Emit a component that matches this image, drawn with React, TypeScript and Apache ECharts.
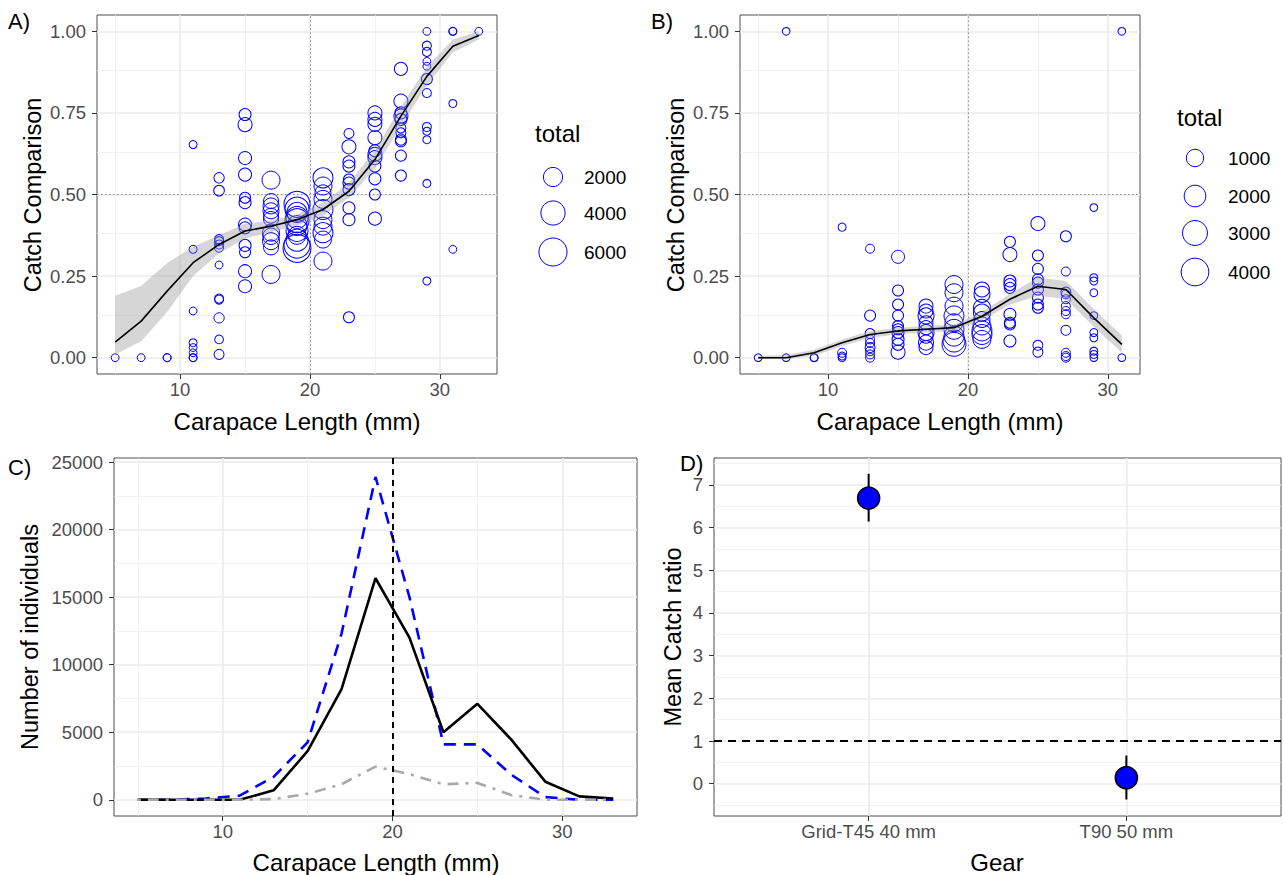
import React, { useEffect, useRef } from "react";
import * as echarts from "echarts";

// ---------------- Panel A data ----------------
const aLength = [
  5, 7, 9, 9,
  11, 11, 11, 11, 11, 11, 11, 11,
  13, 13, 13, 13, 13, 13, 13, 13, 13, 13, 13, 13,
  15, 15, 15, 15, 15, 15, 15, 15, 15, 15, 15, 15,
  17, 17, 17, 17, 17, 17, 17, 17, 17, 17, 17,
  19, 19, 19, 19, 19, 19, 19, 19, 19, 19, 19,
  21, 21, 21, 21, 21, 21, 21, 21, 21, 21,
  23, 23, 23, 23, 23, 23, 23, 23, 23, 23,
  25, 25, 25, 25, 25, 25, 25, 25, 25, 25, 25,
  27, 27, 27, 27, 27, 27, 27, 27, 27, 27, 27,
  29, 29, 29, 29, 29, 29, 29, 29, 29, 29, 29, 29,
  31, 31, 31, 31,
  33,
];
const aComparison = [
  0, 0, 0, 0,
  0.653, 0.332, 0.143, 0.046, 0.031, 0.015, 0, 0,
  0.551, 0.512, 0.363, 0.357, 0.347, 0.337, 0.284, 0.181, 0.178, 0.122, 0.056, 0.01,
  0.745, 0.714, 0.612, 0.561, 0.49, 0.475, 0.408, 0.398, 0.344, 0.323, 0.265, 0.219,
  0.544, 0.48, 0.465, 0.45, 0.435, 0.425, 0.383, 0.372, 0.357, 0.338, 0.255,
  0.47, 0.455, 0.445, 0.43, 0.42, 0.405, 0.39, 0.375, 0.36, 0.345, 0.335,
  0.551, 0.526, 0.505, 0.485, 0.454, 0.423, 0.403, 0.383, 0.362, 0.296,
  0.687, 0.646, 0.6, 0.587, 0.546, 0.535, 0.515, 0.459, 0.423, 0.124,
  0.75, 0.73, 0.715, 0.674, 0.634, 0.623, 0.613, 0.587, 0.548, 0.5, 0.426,
  0.885, 0.786, 0.75, 0.74, 0.73, 0.704, 0.689, 0.668, 0.663, 0.619, 0.558,
  1.0, 0.956, 0.937, 0.908, 0.893, 0.854, 0.811, 0.707, 0.694, 0.668, 0.534, 0.235,
  1.0, 1.0, 0.779, 0.332,
  1.0,
];
const aTotal = [
  10, 10, 15, 10,
  13, 13, 10, 13, 10, 10, 13, 10,
  160, 180, 60, 54, 54, 54, 10, 54, 54, 140, 40, 121,
  336, 658, 483, 483, 215, 336, 483, 336, 336, 215, 483, 483,
  1625, 860, 1088, 1088, 860, 860, 1343, 1200, 1343, 860, 1625,
  4850, 3880, 2270, 3020, 3880, 2270, 3020, 1625, 3020, 4850, 5920,
  2270, 1625, 1088, 1625, 2270, 1625, 1625, 2270, 1343, 1625,
  121, 658, 336, 336, 215, 336, 336, 336, 336, 215,
  658, 658, 658, 658, 336, 658, 658, 336, 336, 215, 483,
  483, 658, 336, 658, 336, 121, 121, 215, 215, 215, 215,
  10, 54, 54, 10, 10, 215, 54, 54, 13, 13, 13, 13,
  13, 10, 13, 10,
  10,
];
const aSmoothX = [5, 7, 9, 11, 13, 15, 17, 19, 21, 23, 25, 27, 29, 31, 33];
const aSmoothFit = [0.048, 0.112, 0.204, 0.291, 0.347, 0.388, 0.403, 0.423, 0.454, 0.51, 0.607, 0.74, 0.862, 0.954, 0.987];
const aSmoothLower = [0.01, 0.05, 0.14, 0.25, 0.32, 0.365, 0.385, 0.405, 0.435, 0.49, 0.58, 0.71, 0.835, 0.935, 0.975];
const aSmoothUpper = [0.19, 0.22, 0.29, 0.34, 0.375, 0.41, 0.42, 0.44, 0.475, 0.535, 0.635, 0.77, 0.89, 0.975, 1.0];
const aLegendTotals = [2000, 4000, 6000];

// ---------------- Panel B data ----------------
const bLength = [
  5, 7, 7, 9, 9,
  11, 11, 11, 11,
  13, 13, 13, 13, 13, 13, 13, 13, 13,
  15, 15, 15, 15, 15, 15, 15, 15, 15, 15,
  17, 17, 17, 17, 17, 17, 17, 17, 17,
  19, 19, 19, 19, 19, 19, 19, 19, 19,
  21, 21, 21, 21, 21, 21, 21, 21, 21,
  23, 23, 23, 23, 23, 23, 23, 23, 23,
  25, 25, 25, 25, 25, 25, 25, 25, 25, 25, 25,
  27, 27, 27, 27, 27, 27, 27, 27, 27, 27, 27, 27,
  29, 29, 29, 29, 29, 29, 29, 29, 29, 29,
  31, 31,
];
const bComparison = [
  0, 1.0, 0, 0, 0,
  0.4, 0.015, 0.005, 0,
  0.334, 0.129, 0.074, 0.056, 0.045, 0.031, 0.02, 0.01, 0,
  0.309, 0.206, 0.163, 0.129, 0.097, 0.087, 0.077, 0.056, 0.041, 0.017,
  0.158, 0.143, 0.128, 0.107, 0.092, 0.077, 0.066, 0.046, 0.031,
  0.224, 0.199, 0.158, 0.128, 0.107, 0.087, 0.066, 0.051, 0.041,
  0.209, 0.194, 0.153, 0.138, 0.117, 0.097, 0.082, 0.071, 0.056,
  0.355, 0.316, 0.235, 0.224, 0.214, 0.133, 0.107, 0.102, 0.051,
  0.411, 0.313, 0.272, 0.24, 0.23, 0.209, 0.184, 0.163, 0.153, 0.038, 0.017,
  0.372, 0.264, 0.201, 0.194, 0.179, 0.158, 0.143, 0.133, 0.084, 0.015, 0.005, 0,
  0.46, 0.245, 0.235, 0.199, 0.129, 0.077, 0.061, 0.02, 0.01, 0,
  1.0, 0,
];
const bTotal = [
  5, 5, 5, 9, 5,
  9, 37, 9, 9,
  37, 149, 84, 37, 37, 84, 37, 37, 37,
  335, 149, 149, 149, 149, 149, 232, 232, 232, 455,
  455, 455, 753, 455, 455, 753, 455, 595, 455,
  1125, 1125, 1125, 1571, 1125, 1571, 1571, 2092, 2686,
  595, 753, 930, 930, 753, 1125, 1571, 1571, 1125,
  149, 455, 232, 232, 149, 232, 149, 149, 232,
  455, 149, 149, 149, 149, 149, 149, 149, 149, 84, 84,
  149, 37, 84, 37, 37, 37, 37, 37, 84, 37, 37, 37,
  5, 9, 9, 5, 5, 9, 9, 9, 9, 5,
  5, 5,
];
const bSmoothX = [5, 7, 9, 11, 13, 15, 17, 19, 21, 23, 25, 27, 29, 31];
const bSmoothFit = [0, 0, 0.015, 0.046, 0.071, 0.082, 0.087, 0.092, 0.127, 0.179, 0.219, 0.209, 0.122, 0.041];
const bSmoothLower = [-0.004, -0.005, 0.006, 0.036, 0.06, 0.072, 0.077, 0.082, 0.115, 0.162, 0.19, 0.18, 0.095, 0.015];
const bSmoothUpper = [0.006, 0.008, 0.024, 0.056, 0.082, 0.092, 0.097, 0.102, 0.139, 0.196, 0.245, 0.235, 0.149, 0.068];
const bLegendTotals = [1000, 2000, 3000, 4000];

// ---------------- Panel C data ----------------
const cLength = [5, 7, 9, 11, 13, 15, 17, 19, 21, 23, 25, 27, 29, 31, 33];
const cSolidBlack = [0, 0, 0, 0, 700, 3600, 8200, 16400, 12000, 5000, 7100, 4450, 1340, 250, 100];
const cDashedBlue = [0, 0, 100, 300, 1700, 4250, 12300, 23900, 15000, 4100, 4100, 1850, 200, 0, 0];
const cDotDashGrey = [0, 0, 0, 0, 50, 450, 1150, 2450, 1900, 1150, 1250, 350, 0, 0, 0];

// ---------------- Panel D data ----------------
const gears = ["Grid-T45 40 mm", "T90 50 mm"];
const gearPos = [1, 2];
const ratioMean = [6.69, 0.14];
const ratioLow = [6.14, -0.37];
const ratioHigh = [7.26, 0.66];

// ---------------- styling helpers ----------------
const FONT = "'Liberation Sans', Arial, Helvetica, sans-serif";
const sizeA = (t: number) => 7 + 22 * Math.sqrt(t / 6500);
const sizeB = (t: number) => 7 + 22 * Math.sqrt(t / 4500);

const majorStyle = { color: "#EBEBEB", width: 1.6, type: "solid" };
const minorStyle = { color: "#EFEFEF", width: 0.8, type: "solid" };

function gridLines(xMajor: number[], xMinor: number[], yMajor: number[], yMinor: number[]) {
  return [
    ...xMinor.map((v) => ({ xAxis: v, lineStyle: minorStyle })),
    ...yMinor.map((v) => ({ yAxis: v, lineStyle: minorStyle })),
    ...xMajor.map((v) => ({ xAxis: v, lineStyle: majorStyle })),
    ...yMajor.map((v) => ({ yAxis: v, lineStyle: majorStyle })),
  ];
}

function gridSeries(idx: number, lines: any[]) {
  return {
    type: "line",
    xAxisIndex: idx,
    yAxisIndex: idx,
    data: [],
    silent: true,
    z: 0,
    markLine: {
      silent: true,
      z: 0,
      symbol: ["none", "none"],
      label: { show: false },
      emphasis: { disabled: true },
      data: lines,
    },
  };
}

function valueAxis(idx: number, min: number, max: number, ticks: number[], fmt: (v: number) => string, isY: boolean) {
  return {
    type: "value",
    gridIndex: idx,
    position: isY ? "left" : "bottom",
    min,
    max,
    axisLine: { show: false, onZero: false },
    splitLine: { show: false },
    axisTick: {
      show: true,
      customValues: ticks,
      length: 5,
      lineStyle: { color: "#333333", width: 1 },
    },
    axisLabel: {
      customValues: ticks,
      formatter: fmt,
      color: "#4D4D4D",
      fontSize: 18.5,
      fontFamily: FONT,
      margin: isY ? 11 : 6,
    },
  };
}

function ribbonSeries(idx: number, xs: number[], lo: number[], hi: number[]) {
  return {
    type: "custom",
    xAxisIndex: idx,
    yAxisIndex: idx,
    data: [[xs[0], lo[0], hi[0]]],
    encode: { x: 0, y: [1, 2] },
    renderItem: (_p: any, api: any) => {
      const upper = xs.map((x, i) => api.coord([x, hi[i]]));
      const lower = xs.map((x, i) => api.coord([x, lo[i]])).reverse();
      return {
        type: "polygon",
        shape: { points: upper.concat(lower) },
        style: { fill: "#999999", opacity: 0.4, stroke: "none" },
      };
    },
    silent: true,
    z: 3,
  };
}

function scatterSeries(idx: number, xs: number[], ys: number[], totals: number[], sizeFn: (t: number) => number) {
  return {
    type: "scatter",
    xAxisIndex: idx,
    yAxisIndex: idx,
    data: xs.map((x, i) => [x, ys[i], totals[i]]),
    symbol: "circle",
    symbolSize: (v: number[]) => sizeFn(v[2]),
    itemStyle: { color: "rgba(0,0,0,0)", borderColor: "#0000FF", borderWidth: 1, opacity: 1 },
    silent: true,
    z: 2,
  };
}

function fitSeries(idx: number, xs: number[], ys: number[]) {
  return {
    type: "line",
    xAxisIndex: idx,
    yAxisIndex: idx,
    data: xs.map((x, i) => [x, ys[i]]),
    symbol: "none",
    lineStyle: { color: "#000000", width: 1.6 },
    silent: true,
    z: 4,
  };
}

const refDotted = { color: "#8C8C8C", width: 1, type: [1.5, 2.5] };

function txt(text: string, x: number, y: number, size: number, opts: any = {}) {
  return {
    type: "text",
    x,
    y,
    rotation: opts.rotation || 0,
    style: {
      text,
      fontSize: size,
      fontFamily: FONT,
      fill: opts.fill || "#000000",
      align: opts.align || "left",
      verticalAlign: "middle",
    },
    silent: true,
  };
}

function sizeLegend(title: string, tx: number, ty: number, cx: number, lx: number, ys: number[], totals: number[], sizeFn: (t: number) => number) {
  const els: any[] = [txt(title, tx, ty, 24)];
  totals.forEach((t, i) => {
    els.push({
      type: "circle",
      shape: { cx, cy: ys[i], r: sizeFn(t) / 2 },
      style: { fill: "none", stroke: "#0000FF", lineWidth: 1 },
      silent: true,
    });
    els.push(txt(String(t), lx, ys[i], 19));
  });
  return els;
}

export default function App() {
  const ref = useRef<HTMLDivElement>(null);

  useEffect(() => {
    if (!ref.current) return;
    const chart = echarts.init(ref.current, undefined, { renderer: "svg" });

    const xLenMajor = [10, 20, 30];
    const xLenMinor = [5, 15, 25];
    const yCompMajor = [0, 0.25, 0.5, 0.75, 1];
    const yCompMinor = [0.125, 0.375, 0.625, 0.875];
    const yCountMajor = [0, 5000, 10000, 15000, 20000, 25000];
    const yCountMinor = [2500, 7500, 12500, 17500, 22500];
    const yRatioMajor = [0, 1, 2, 3, 4, 5, 6, 7];
    const yRatioMinor = [-0.5, 0.5, 1.5, 2.5, 3.5, 4.5, 5.5, 6.5, 7.5];

    const fmt2 = (v: number) => v.toFixed(2);
    const fmtInt = (v: number) => String(Math.round(v));
    const fmtGear = (v: number) => gears[gearPos.indexOf(Math.round(v))] || "";

    const border = { show: true, borderColor: "#4D4D4D", borderWidth: 1, backgroundColor: "#FFFFFF" };
    const mlBase = { silent: true, symbol: ["none", "none"], label: { show: false }, emphasis: { disabled: true } };

    const errorBars = gearPos.map((p, i) => ({
      type: "line",
      xAxisIndex: 3,
      yAxisIndex: 3,
      data: [
        [p, ratioLow[i]],
        [p, ratioHigh[i]],
      ],
      symbol: "none",
      lineStyle: { color: "#000000", width: 2 },
      silent: true,
      z: 3,
    }));

    const option: any = {
      animation: false,
      backgroundColor: "#FFFFFF",
      grid: [
        { left: 97, top: 15, width: 400, height: 359, ...border },
        { left: 740, top: 15, width: 400, height: 359, ...border },
        { left: 114, top: 458, width: 523, height: 358, ...border },
        { left: 714, top: 458, width: 567, height: 358, ...border },
      ],
      xAxis: [
        valueAxis(0, 3.6, 34.4, xLenMajor, fmtInt, false),
        valueAxis(1, 3.7, 32.3, xLenMajor, fmtInt, false),
        valueAxis(2, 3.6, 34.4, xLenMajor, fmtInt, false),
        valueAxis(3, 0.4, 2.6, gearPos, fmtGear, false),
      ],
      yAxis: [
        valueAxis(0, -0.05, 1.05, yCompMajor, fmt2, true),
        valueAxis(1, -0.05, 1.05, yCompMajor, fmt2, true),
        valueAxis(2, -1200, 25300, yCountMajor, fmtInt, true),
        valueAxis(3, -0.757, 7.63, yRatioMajor, fmtInt, true),
      ],
      series: [
        // ---- Panel A ----
        gridSeries(0, gridLines(xLenMajor, xLenMinor, yCompMajor, yCompMinor)),
        {
          type: "line", xAxisIndex: 0, yAxisIndex: 0, data: [], silent: true, z: 1,
          markLine: { ...mlBase, z: 1, data: [{ xAxis: 20, lineStyle: refDotted }, { yAxis: 0.5, lineStyle: refDotted }] },
        },
        scatterSeries(0, aLength, aComparison, aTotal, sizeA),
        ribbonSeries(0, aSmoothX, aSmoothLower, aSmoothUpper),
        fitSeries(0, aSmoothX, aSmoothFit),
        // ---- Panel B ----
        gridSeries(1, gridLines(xLenMajor, xLenMinor, yCompMajor, yCompMinor)),
        {
          type: "line", xAxisIndex: 1, yAxisIndex: 1, data: [], silent: true, z: 1,
          markLine: { ...mlBase, z: 1, data: [{ xAxis: 20, lineStyle: refDotted }, { yAxis: 0.5, lineStyle: refDotted }] },
        },
        scatterSeries(1, bLength, bComparison, bTotal, sizeB),
        ribbonSeries(1, bSmoothX, bSmoothLower, bSmoothUpper),
        fitSeries(1, bSmoothX, bSmoothFit),
        // ---- Panel C ----
        gridSeries(2, gridLines(xLenMajor, xLenMinor, yCountMajor, yCountMinor)),
        {
          type: "line",
          xAxisIndex: 2,
          yAxisIndex: 2,
          data: cLength.map((x, i) => [x, cDashedBlue[i]]),
          symbol: "none",
          lineStyle: { color: "#0000FF", width: 2.6, type: [12, 8] },
          silent: true,
          z: 2,
        },
        {
          type: "line",
          xAxisIndex: 2,
          yAxisIndex: 2,
          data: cLength.map((x, i) => [x, cSolidBlack[i]]),
          symbol: "none",
          lineStyle: { color: "#000000", width: 2.6 },
          silent: true,
          z: 3,
        },
        {
          type: "line",
          xAxisIndex: 2,
          yAxisIndex: 2,
          data: cLength.map((x, i) => [x, cDotDashGrey[i]]),
          symbol: "none",
          lineStyle: { color: "#A9A9A9", width: 2.6, type: [3, 7, 11, 7] },
          silent: true,
          z: 4,
        },
        {
          type: "line", xAxisIndex: 2, yAxisIndex: 2, data: [], silent: true, z: 6,
          markLine: { ...mlBase, z: 6, data: [{ xAxis: 20, lineStyle: { color: "#000000", width: 2, type: [6, 5] } }] },
        },
        // ---- Panel D ----
        gridSeries(3, gridLines(gearPos, [], yRatioMajor, yRatioMinor)),
        {
          type: "line", xAxisIndex: 3, yAxisIndex: 3, data: [], silent: true, z: 2,
          markLine: { ...mlBase, z: 2, data: [{ yAxis: 1, lineStyle: { color: "#000000", width: 2, type: [8, 6] } }] },
        },
        ...errorBars,
        {
          type: "scatter",
          xAxisIndex: 3,
          yAxisIndex: 3,
          data: gearPos.map((p, i) => [p, ratioMean[i]]),
          symbol: "circle",
          symbolSize: 22,
          itemStyle: { color: "#0000FF", borderColor: "#000000", borderWidth: 1.6, opacity: 1 },
          silent: true,
          z: 5,
        },
      ],
      graphic: [
        // panel tags
        txt("A)", 8, 21, 22),
        txt("B)", 651, 21, 22),
        txt("C)", 8, 467, 22),
        txt("D)", 680, 463, 22),
        // axis titles
        txt("Catch Comparison", 33, 195, 23.5, { rotation: Math.PI / 2, align: "center" }),
        txt("Carapace Length (mm)", 297, 421, 24, { align: "center" }),
        txt("Catch Comparison", 676, 195, 23.5, { rotation: Math.PI / 2, align: "center" }),
        txt("Carapace Length (mm)", 940, 421, 24, { align: "center" }),
        txt("Number of individuals", 30, 637, 23.5, { rotation: Math.PI / 2, align: "center" }),
        txt("Carapace Length (mm)", 376, 862, 24, { align: "center" }),
        txt("Mean Catch ratio", 673, 637, 23.5, { rotation: Math.PI / 2, align: "center" }),
        txt("Gear", 997, 862, 24, { align: "center" }),
        // size legends
        ...sizeLegend("total", 535, 133, 553, 584, [177, 213, 252], aLegendTotals, sizeA),
        ...sizeLegend("total", 1177, 117, 1195, 1228, [158, 196, 233, 272], bLegendTotals, sizeB),
      ],
    };

    chart.setOption(option);
    return () => chart.dispose();
  }, []);

  return (
    <div
      ref={ref}
      style={{ position: "fixed", left: 0, top: 0, width: 1283, height: 875, background: "#fff" }}
    />
  );
}
